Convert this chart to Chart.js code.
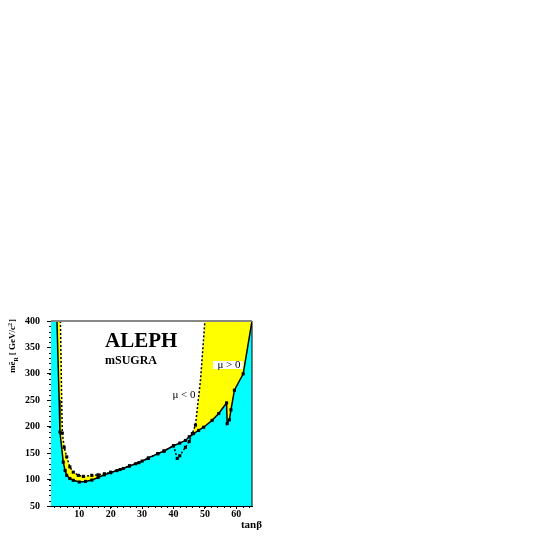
<!DOCTYPE html>
<html>
<head>
<meta charset="utf-8">
<script src="https://cdn.jsdelivr.net/npm/chart.js@4/dist/chart.umd.min.js"></script>
<style>
  html, body { margin: 0; padding: 0; background: #fff; }
</style>
</head>
<body>
<canvas id="limitChart" width="545" height="545"></canvas>
<script>
// tick labels
const xTicks = [10, 20, 30, 40, 50, 60];
const yTicks = [50, 100, 150, 200, 250, 300, 350, 400];

// mu > 0 limit (solid line, cyan excluded region)
const muPosTanb = [2.9, 3.6, 3.85, 4.9, 5.5, 6, 7, 8.1, 10, 12, 14, 16, 18, 20, 22, 24, 26, 28, 30, 32, 35, 37, 40, 42, 43.8, 45, 46.4, 48, 49.6, 52.3, 54.4, 56.9, 57.1, 57.8, 58.3, 59.4, 62.2, 65];
const muPosMass = [400, 250, 190, 133, 117, 108, 102, 98.6, 95.4, 96.5, 99, 104, 109, 113, 117, 121, 125.6, 130, 135, 141, 149, 154, 164, 169, 174, 181, 187, 193, 199, 212, 225, 245, 206, 213, 232, 269, 300, 400];

// mu < 0 limit (dotted line, yellow excluded region)
const muNegTanb = [4.0, 4.4, 4.6, 5.2, 6, 7, 8.1, 9.7, 11.3, 14, 16, 18, 20, 23, 26, 29, 32, 35, 37, 40, 41.2, 42, 43.8, 45, 46, 47, 48.6, 50];
const muNegMass = [400, 250, 188, 161, 143, 124, 114, 108, 106, 108, 109, 111, 114, 119, 126, 132, 140, 149, 154, 164, 140, 145, 161, 172, 187, 203, 288, 400];

const xMin = 1, xMax = 65, yMin = 50, yMax = 400;

function toPoints(xs, ys){
  return xs.map((x, i) => ({ x: x, y: ys[i] }));
}

const muPos = toPoints(muPosTanb, muPosMass);
const muNeg = toPoints(muNegTanb, muNegMass);

// fill polygons close along the top edge of the frame
const cyanArea = [{ x: xMin, y: yMax }].concat(muPos);
const yellowArea = [{ x: xMin, y: yMax }].concat(muNeg, [{ x: xMax, y: yMax }]);

const serif = '"Liberation Serif", "DejaVu Serif", serif';

// markers only on the measured points, not on the steep extrapolated parts
function posMarker(c){
  const p = c.raw;
  if(!p) return 0;
  if(p.y >= 400 || (p.x < 10 && p.y >= 250)) return 0;
  return 2.2;
}

function negMarker(c){
  const p = c.raw;
  if(!p) return 0;
  return p.y >= 250 ? 0 : 2.2;
}

// FRAME, MINOR TICKS AND LABELS

const decorations = {
  id: 'decorations',
  afterDraw(chart){
    const ctx = chart.ctx;
    const a = chart.chartArea;
    const xs = chart.scales.x;
    const ys = chart.scales.y;

    ctx.save();

    // right and top border
    ctx.strokeStyle = '#000';
    ctx.lineWidth = 1;
    ctx.beginPath();
    ctx.moveTo(a.right, a.top);
    ctx.lineTo(a.right, a.bottom);
    ctx.stroke();

    ctx.strokeStyle = '#888';
    ctx.lineWidth = 2;
    ctx.beginPath();
    ctx.moveTo(a.left, a.top);
    ctx.lineTo(a.right, a.top);
    ctx.stroke();

    // minor ticks
    ctx.strokeStyle = '#000';
    ctx.lineWidth = 1;
    ctx.beginPath();
    for(let v = yMin; v <= yMax; v += 10){
      const py = Math.round(ys.getPixelForValue(v)) + 0.5;
      ctx.moveTo(a.left, py);
      ctx.lineTo(a.left - 2, py);
    }
    for(let v = 2; v <= 64; v += 2){
      const px = Math.round(xs.getPixelForValue(v)) + 0.5;
      ctx.moveTo(px, a.bottom);
      ctx.lineTo(px, a.bottom + 2);
    }
    ctx.stroke();

    // experiment label
    ctx.fillStyle = '#000';
    ctx.textAlign = 'left';
    ctx.textBaseline = 'alphabetic';
    ctx.font = 'bold 21px ' + serif;
    ctx.fillText('ALEPH', 105, 347);
    ctx.font = 'bold 12px ' + serif;
    ctx.fillText('mSUGRA', 105, 364);

    // curve labels
    ctx.font = '11px ' + serif;
    ctx.textAlign = 'center';
    ctx.textBaseline = 'middle';
    ctx.fillText('\u03bc < 0', 184, 395);
    ctx.fillStyle = '#fff';
    ctx.fillRect(213, 361, 30, 8);
    ctx.fillStyle = '#000';
    ctx.fillText('\u03bc > 0', 229, 365);

    // x axis title
    ctx.font = 'bold 11px ' + serif;
    ctx.textAlign = 'right';
    ctx.textBaseline = 'middle';
    ctx.fillText('tan\u03b2', 262, 525);

    // y axis title, rotated
    ctx.translate(13, 373);
    ctx.rotate(-Math.PI / 2);
    ctx.textAlign = 'left';
    ctx.textBaseline = 'middle';
    let px = 0;
    ctx.font = 'bold 9px ' + serif;
    ctx.fillText('m\u1ebd', px, 0);
    px += ctx.measureText('m\u1ebd').width;
    ctx.font = 'bold 6px ' + serif;
    ctx.fillText('R', px, 3);
    px += ctx.measureText('R').width + 2;
    ctx.font = 'bold 9px ' + serif;
    ctx.fillText('[ GeV/c', px, 0);
    px += ctx.measureText('[ GeV/c').width;
    ctx.font = 'bold 6px ' + serif;
    ctx.fillText('2', px, -3);
    px += ctx.measureText('2').width + 1;
    ctx.font = 'bold 9px ' + serif;
    ctx.fillText(']', px, 0);

    ctx.restore();
  }
};

const ctx = document.getElementById('limitChart');

const limitChart = new Chart(ctx, {
  type: 'scatter',
  data: {
    datasets: [
      {
        data: muNeg,
        showLine: true,
        borderColor: '#000',
        borderWidth: 1.5,
        borderDash: [2, 2],
        pointStyle: 'rect',
        pointRadius: negMarker,
        pointBackgroundColor: '#000',
        pointBorderWidth: 0,
        fill: false,
        order: 1
      },
      {
        data: muPos,
        showLine: true,
        borderColor: '#000',
        borderWidth: 1.5,
        pointStyle: 'rect',
        pointRadius: posMarker,
        pointBackgroundColor: '#000',
        pointBorderWidth: 0,
        fill: false,
        order: 2
      },
      {
        data: cyanArea,
        showLine: true,
        borderWidth: 0,
        pointRadius: 0,
        backgroundColor: '#00ffff',
        fill: 'start',
        order: 4
      },
      {
        data: yellowArea,
        showLine: true,
        borderWidth: 0,
        pointRadius: 0,
        backgroundColor: '#ffff00',
        fill: 'start',
        order: 5
      }
    ]
  },
  options: {
    responsive: false,
    animation: false,
    layout: {
      padding: { left: 13, right: 293, top: 321, bottom: 19 }
    },
    plugins: {
      legend: { display: false },
      tooltip: { enabled: false }
    },
    scales: {
      x: {
        type: 'linear',
        min: xMin,
        max: xMax,
        afterBuildTicks: s => { s.ticks = xTicks.map(v => ({ value: v })); },
        afterFit: s => { s.height = 20; },
        grid: { drawOnChartArea: false, drawTicks: true, tickLength: 3, color: '#000' },
        border: { display: true, color: '#000', width: 1 },
        ticks: {
          color: '#000',
          padding: -1,
          maxRotation: 0,
          font: { family: serif, size: 10, weight: 'bold' }
        }
      },
      y: {
        type: 'linear',
        min: yMin,
        max: yMax,
        afterBuildTicks: s => { s.ticks = yTicks.map(v => ({ value: v })); },
        afterFit: s => { s.width = 38; },
        grid: { drawOnChartArea: false, drawTicks: true, tickLength: 4, color: '#000' },
        border: { display: true, color: '#000', width: 1 },
        ticks: {
          color: '#000',
          padding: 7,
          font: { family: serif, size: 10, weight: 'bold' }
        }
      }
    }
  },
  plugins: [decorations]
});
</script>
</body>
</html>
